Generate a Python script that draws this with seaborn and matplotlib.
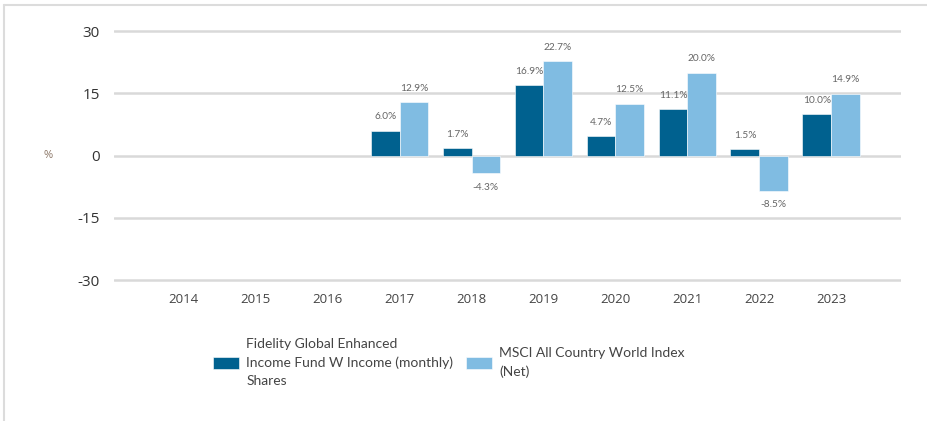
import numpy as np
import pandas as pd
import matplotlib
matplotlib.use("Agg")
import matplotlib.pyplot as plt
import matplotlib.transforms as mtransforms
from matplotlib.lines import Line2D
import seaborn as sns

# data
years = ["2014", "2015", "2016", "2017", "2018", "2019", "2020", "2021", "2022", "2023"]
fund = [np.nan, np.nan, np.nan, 6.0, 1.7, 16.9, 4.7, 11.1, 1.5, 10.0]
index = [np.nan, np.nan, np.nan, 12.9, -4.3, 22.7, 12.5, 20.0, -8.5, 14.9]
series = ["Fidelity Global Enhanced\nIncome Fund W Income (monthly)\nShares",
          "MSCI All Country World Index\n(Net)"]
yticks = [-30, -15, 0, 15, 30]

colors = ["#00618f", "#80bce2"]

df = pd.DataFrame({"year": years * 2,
                   "value": fund + index,
                   "series": [series[0]] * len(years) + [series[1]] * len(years)})

sns.set_style("white")
plt.rcParams["font.family"] = ["Open Sans", "DejaVu Sans"]

fig = plt.figure(figsize=(9.28, 4.21), dpi=100)
ax = fig.add_axes([0.1228, 0.325, 0.8481, 0.6112])

sns.barplot(data=df, x="year", y="value", hue="series", order=years,
            hue_order=series, palette=colors, saturation=1, width=0.8, ax=ax,
            edgecolor="white", linewidth=0.4, errorbar=None, zorder=3)

# value labels, placed off the end of each bar
for cont in ax.containers:
    for bar in cont:
        if bar is None:
            continue
        h = bar.get_height()
        if np.isnan(h):
            continue
        xc = bar.get_x() + bar.get_width() / 2
        off = 10 if h >= 0 else -10
        ax.annotate(f"{h:.1f}%", (xc, h), xytext=(0, off), textcoords="offset points",
                    ha="center", va="center", fontsize=7.3, color="#666666",
                    family="Lato")

ax.set_ylim(-31, 31)
ax.set_xlim(-0.97, 9.97)
ax.set_yticks(yticks)
ax.set_yticklabels([str(t) for t in yticks])
ax.yaxis.grid(True, color="#d9d9d9", linewidth=1.8, zorder=0)
ax.xaxis.grid(False)
ax.set_axisbelow(True)
for s in ax.spines.values():
    s.set_visible(False)
ax.tick_params(axis="y", length=0, pad=10, labelsize=11, labelcolor="#333333")
ax.tick_params(axis="x", length=0, pad=6, labelsize=9.5, labelcolor="#444444")
ax.set_xlabel("")
ax.set_ylabel("")

# "%" unit marker beside the zero line
trans = mtransforms.blended_transform_factory(fig.transFigure, ax.transData)
ax.text(48 / 928, 0, "%", transform=trans, ha="center", va="center",
        fontsize=8, color="#8a7565")

# legend below the chart
if ax.get_legend() is not None:
    ax.get_legend().remove()
handles = [plt.Rectangle((0, 0), 1, 1, facecolor=c, edgecolor="white", linewidth=0.4)
           for c in colors]
leg = fig.legend(handles, series, ncol=2, frameon=False,
                 loc="upper left", bbox_to_anchor=(0.222, 0.213),
                 prop={"family": "Lato", "size": 10},
                 handlelength=1.9, handleheight=0.95, handletextpad=0.5,
                 columnspacing=0.9, borderpad=0)
for t in leg.get_texts():
    t.set_color("#444444")
    t.set_linespacing(1.6)

# light frame at top and left edges
fig.add_artist(Line2D([4 / 928, 1], [1 - 5 / 421] * 2, transform=fig.transFigure,
                      color="#dcdcdc", linewidth=1.5))
fig.add_artist(Line2D([4 / 928] * 2, [0, 1 - 5 / 421], transform=fig.transFigure,
                      color="#dcdcdc", linewidth=1.5))

fig.savefig("out.png", dpi=100)
